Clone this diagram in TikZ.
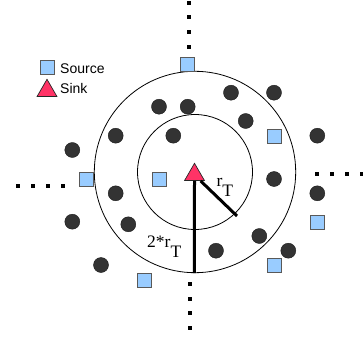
\documentclass[tikz,border=0pt]{standalone}
\usepackage{fontspec}
\setmainfont{Liberation Serif}
\newfontfamily\legendfont{Liberation Sans}
\usetikzlibrary{shapes.geometric}
\definecolor{srcblue}{HTML}{99CCFF}
\definecolor{sinkred}{HTML}{FF3366}
\definecolor{sensorgray}{HTML}{333333}

\tikzset{
  src/.style={draw=black!65,fill=srcblue,minimum size=14pt,inner sep=0pt,line width=0.8pt},
  sink/.style={regular polygon,regular polygon sides=3,draw=black!85,fill=sinkred,
    minimum size=23pt,inner sep=0pt,line width=0.7pt},
  sensor/.style={circle,fill=sensorgray,draw=black!90,line width=0.4pt,minimum size=15pt,inner sep=0pt},
  rlabel/.style={font=\fontsize{17.5}{20}\selectfont,inner sep=0pt,anchor=base west},
  legtext/.style={font=\legendfont\fontsize{14}{16}\selectfont,inner sep=0pt,anchor=base west},
}

\begin{document}
\begin{tikzpicture}[x=1pt,y=-1pt]
\useasboundingbox (0,0) rectangle (363,339);

\coordinate (C) at (195,172);
\draw[line width=0.8pt] (C) circle (57.5);
\draw[line width=0.8pt] (C) circle (100.7);

% dotted axes
\foreach \y in {2.7,16.7,32.3,46.7} \fill (189,\y) +(-2,-2) rectangle +(2,2);
\foreach \y in {284,298.5,313,328} \fill (190.3,\y) +(-2,-2) rectangle +(2,2);
\foreach \x in {17.7,32.7,47.7,62.7} \fill (\x,186) +(-2,-2) rectangle +(2,2);
\foreach \x in {317.3,332,347,362} \fill (\x,174) +(-2,-2) rectangle +(2,2);

% sensor nodes
\foreach \x/\y [count=\i] in {231/92.7, 274/92.7, 159/106.7, 187.7/106.7, 245.7/121,
  115.7/135.7, 173.3/135.7, 317.3/135.7, 72.3/150, 274/179, 115.7/193.3, 317.3/193.3,
  72.3/221.7, 128.3/224.3, 259.3/236, 216/250.7, 288.3/250.7, 101/265}
  \node[sensor] (d\i) at (\x,\y) {};

% sources
\foreach \x/\y [count=\i] in {187.7/64.3, 274.3/136, 86.7/179, 159/179,
  317.3/222.3, 274.3/265.7, 144.3/280}
  \node[src] (src\i) at (\x,\y) {};

% sink and radii
\node[sink] (sink) at (194.5,174.8) {};
\coordinate (rin) at (237,216);
\coordinate (rout) at (194.4,273);
\draw[line width=3pt] (sink.south east) -- (rin);
\draw[line width=3pt] (sink.south) -- (rout);
\node[rlabel] (rt) at (216.3,186) {r\raisebox{-10.5pt}{T}};
\node[rlabel] (rt2) at (147,247) {2*r\raisebox{-10pt}{T}};

% legend
\node[src] (lsrc) at (47,67) {};
\node[legtext] (lsrctext) at (60,74) {Source};
\node[sink] (lsink) at (47,90.8) {};
\node[legtext] (lsinktext) at (60,93.5) {Sink};
\end{tikzpicture}
\end{document}
